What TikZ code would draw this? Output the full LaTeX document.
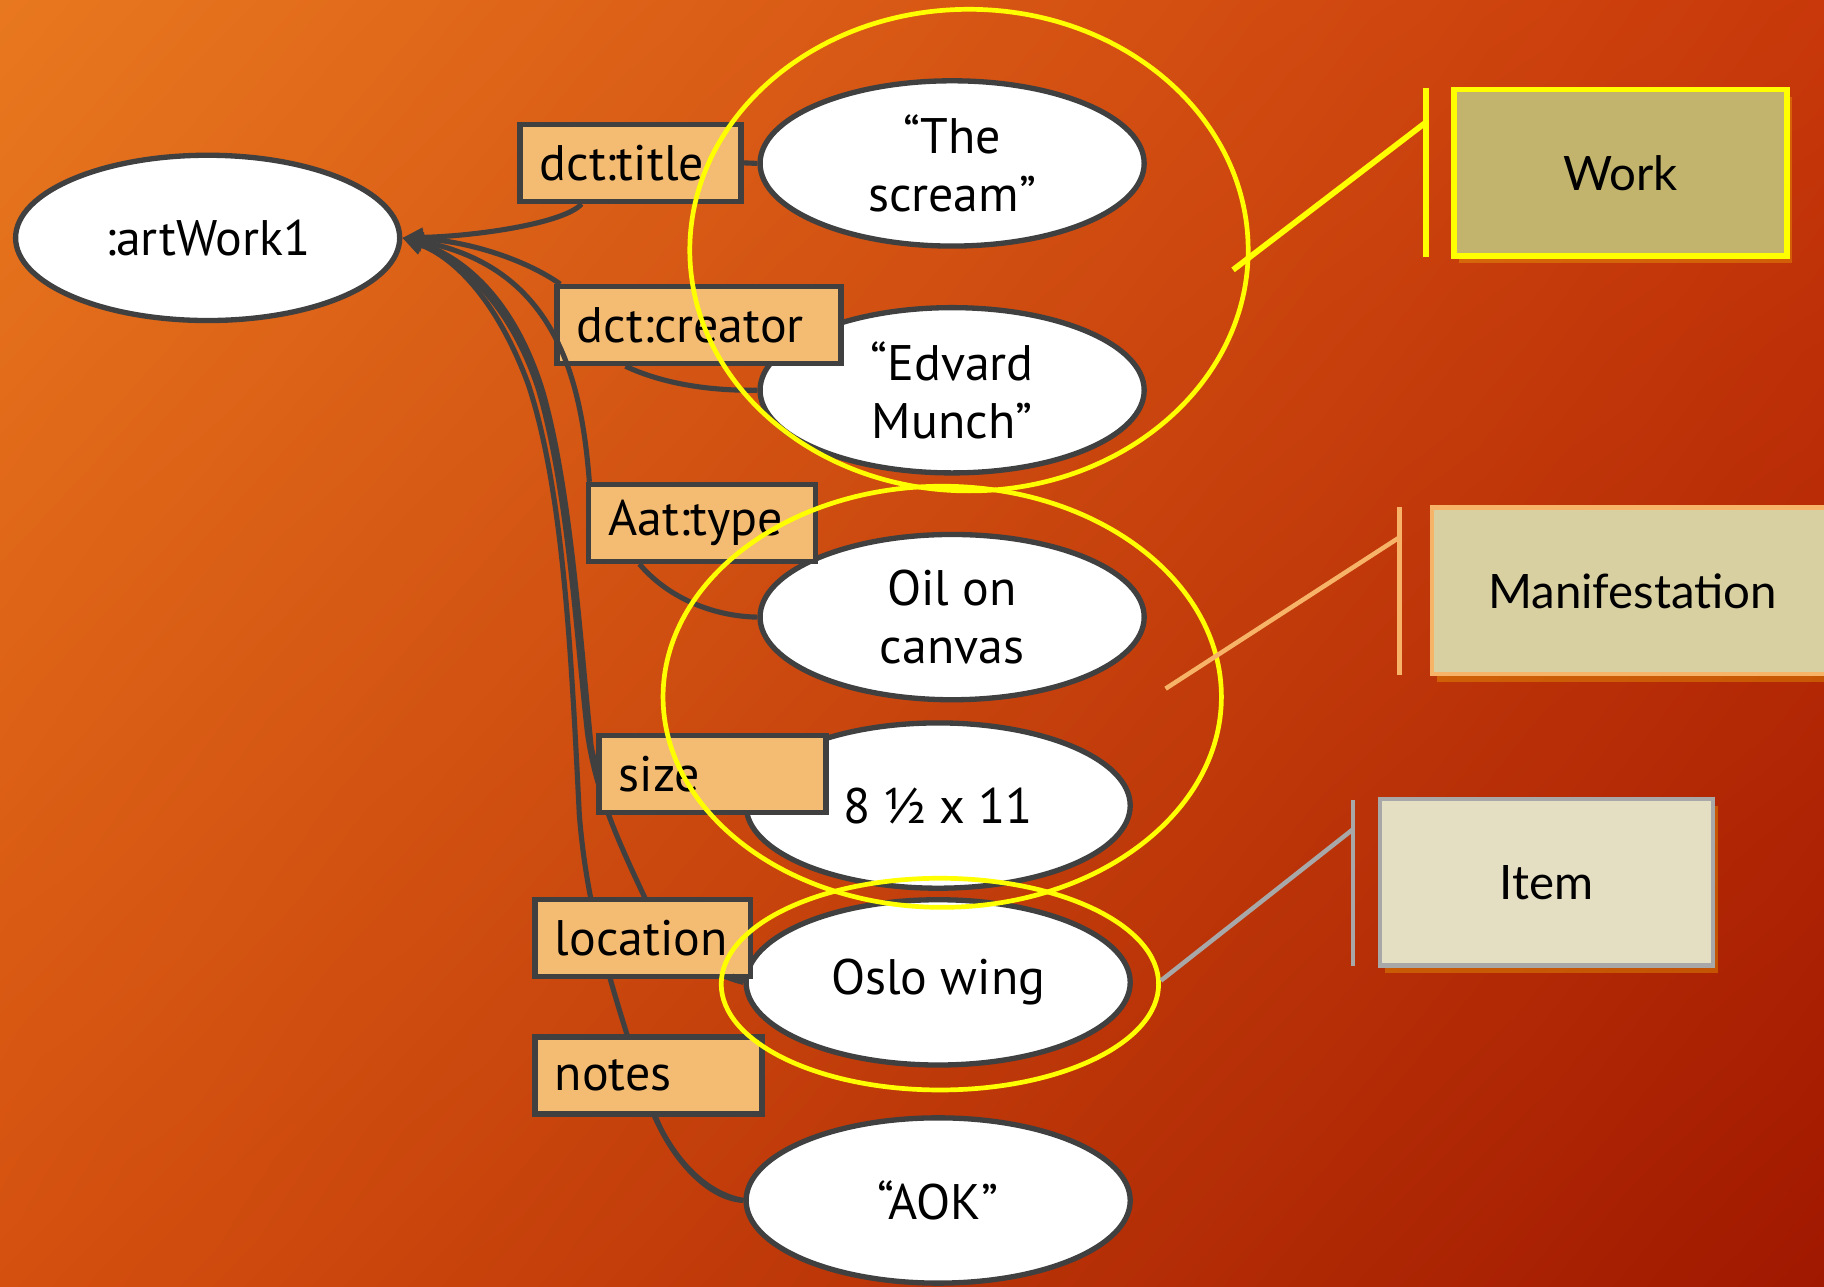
\documentclass[tikz,border=0pt]{standalone}
\usepackage{fontspec}
\setmainfont{PT Sans}
\newfontfamily\boxfont{Lato}
\usetikzlibrary{shapes.geometric,arrows.meta,calc,shadows,shadings}
\definecolor{edgegray}{HTML}{404040}
\definecolor{lblfill}{HTML}{F4BC72}
\definecolor{bgTL}{HTML}{E8781F}
\definecolor{bgTR}{HTML}{C8380A}
\definecolor{bgBL}{HTML}{D4500F}
\definecolor{bgBR}{HTML}{A01800}
\definecolor{workfill}{HTML}{C2B46C}
\definecolor{maniffill}{HTML}{D9D0A2}
\definecolor{itemfill}{HTML}{E4DFC2}
\definecolor{manifline}{HTML}{F7B468}
\definecolor{itemline}{HTML}{A8A8A8}
\definecolor{groupyellow}{HTML}{FFFF00}
\tikzset{
  valnode/.style={ellipse, draw=edgegray, fill=white, line width=1.3pt,
    minimum width=3.30cm, minimum height=1.42cm, inner sep=0pt, align=center,
    font=\fontsize{12.2}{14}\selectfont},
  lblbox/.style={rectangle, draw=edgegray, fill=lblfill, line width=1.3pt,
    minimum height=0.66cm, inner xsep=0.17cm, inner ysep=0pt, align=left,
    font=\fontsize{12.2}{14}\selectfont},
  conn/.style={draw=edgegray, line width=1.25pt, -{Triangle[length=5pt,width=4.5pt]}},
  plain/.style={draw=edgegray, line width=1.25pt},
  groupring/.style={draw=groupyellow, line width=1.15pt},
  classbox/.style={rectangle, minimum width=2.86cm, minimum height=1.43cm,
    font=\boxfont\fontsize{11.6}{14}\selectfont,
    drop shadow={shadow xshift=1.2pt, shadow yshift=-1.8pt, fill=yellow!60!orange, opacity=0.3}},
}
\begin{document}
\begin{tikzpicture}[x=0.01cm,y=-0.01cm]
\useasboundingbox (0,0) rectangle (1568,1106);
\shade[upper left=bgTL, upper right=bgTR, lower left=bgBL, lower right=bgBR]
  (0,0) rectangle (1568,1106);

% value ellipses
\node[valnode] (art) at (178.5,204.5) {:artWork1};
\node[valnode] (scream) at (818.5,140.5) {“The\\scream”};
\node[valnode] (munch) at (818.5,335.5) {“Edvard\\Munch”};
\node[valnode] (oil) at (818.5,530.5) {Oil on\\canvas};
\node[valnode] (half) at (806.5,692.5) {8 ½ x 11};
\node[valnode] (oslo) at (806.5,844.5) {Oslo wing};
\node[valnode] (aok) at (806.5,1032) {“AOK”};

% connectors (drawn before the label boxes so the boxes cover them)
\draw[conn] (half.west) .. controls (560,690) and (515,690) .. (508,640)
  .. controls (498,540) and (490,420) .. (467,338)
  .. controls (444,262) and (402,222) .. (art.east);
\draw[conn] (oslo.west) .. controls (600,835) and (570,805) .. (554,771)
  .. controls (530,720) and (512,680) .. (505,630)
  .. controls (495,540) and (488,420) .. (463,335)
  .. controls (442,270) and (402,225) .. (art.east);
\draw[conn] (aok.west) .. controls (600,1025) and (570,985) .. (555,940)
  .. controls (530,860) and (505,790) .. (498,700)
  .. controls (491,560) and (484,420) .. (454,330)
  .. controls (428,260) and (392,222) .. (art.east);

% label boxes
\node[lblbox, text width=1.56cm] (title) at (542,140) {dct:title};
\node[lblbox, text width=2.10cm] (creator) at (601,279.5) {dct:creator};
\node[lblbox, text width=1.61cm] (atype) at (603.5,449.5) {Aat:type};
\node[lblbox, text width=1.61cm] (size) at (612.5,665.5) {size};
\node[lblbox, text width=1.51cm] (location) at (552.5,806.5) {location};
\node[lblbox, text width=1.61cm] (notes) at (557.5,924.5) {notes};

% connectors from the labels
\draw[plain] (title.east) -- (scream.west);
\draw[conn] ($(title.south)+(-42,0)$) .. controls (485,192) and (410,203) .. (art.east);
\draw[conn] ($(creator.north west)+(5,0)$) .. controls (450,222) and (400,207) .. (art.east);
\draw[plain] ($(creator.south west)+(61,0)$) .. controls (570,330) and (610,336) .. (munch.west);
\draw[conn] ($(atype.north west)+(3,0)$) .. controls (500,330) and (480,230) .. (art.east);
\draw[plain] ($(atype.south west)+(46,0)$) .. controls (575,515) and (615,530) .. (oil.west);
\draw[plain] ($(location.south east)+(-18,-3)$) -- (oslo.west);
\draw[plain] ($(notes.south)+(6,0)$) .. controls (575,990) and (605,1030) .. (aok.west);

% group rings
\draw[groupring] (833,215) ellipse [x radius=240, y radius=207];
\draw[groupring] (810,599) ellipse [x radius=240, y radius=181];
\draw[groupring] (808,846) ellipse [x radius=188, y radius=91];

% class boxes with callouts
\node[classbox, fill=workfill, draw=groupyellow, line width=1.3pt] (work) at (1393,148.5) {Work};
\node[classbox, fill=maniffill, draw=manifline, line width=1.1pt, minimum width=3.45cm] (manif) at (1403.5,508) {Manifestation};
\node[classbox, fill=itemfill, draw=itemline, line width=1.1pt] (item) at (1329.5,758.5) {Item};

\coordinate (workbarT) at (1226,76);
\coordinate (workbarB) at (1226,221);
\coordinate (workbarJ) at (1226,105);
\coordinate (worktip) at (1060,232);
\draw[groupyellow, line width=1.4pt] (workbarT) -- (workbarB);
\draw[groupyellow, line width=1.4pt] (workbarJ) -- (worktip);

\coordinate (manifbarT) at (1203,436);
\coordinate (manifbarB) at (1203,580);
\coordinate (manifbarJ) at (1203,462);
\coordinate (maniftip) at (1002,592);
\draw[manifline, line width=1.1pt] (manifbarT) -- (manifbarB);
\draw[manifline, line width=1.1pt] (manifbarJ) -- (maniftip);

\coordinate (itembarT) at (1163,688);
\coordinate (itembarB) at (1163,830);
\coordinate (itembarJ) at (1163,713);
\coordinate (itemtip) at (998,843);
\draw[itemline, line width=1.1pt] (itembarT) -- (itembarB);
\draw[itemline, line width=1.1pt] (itembarJ) -- (itemtip);
\end{tikzpicture}
\end{document}
